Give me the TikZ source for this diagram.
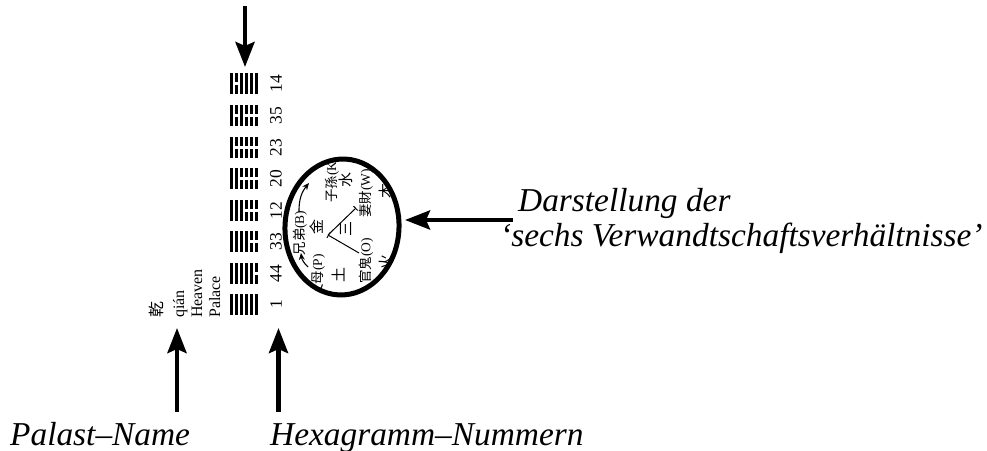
\documentclass[tikz,border=0pt]{standalone}
\usepackage{fontspec}
\setmainfont{Liberation Serif}
\newfontfamily\cjk{Noto Sans CJK TC}
\usetikzlibrary{arrows.meta,shapes.geometric}
\newcommand\hexagr[2]{%
  \foreach \b [count=\i from 0] in {#2}{%
    \pgfmathsetmacro\xa{230+\i*5}%
    \ifnum\b=1
      \fill (\xa,#1-10) rectangle (\xa+3,#1+11);
    \else
      \fill (\xa,#1-10) rectangle (\xa+3,#1-1);
      \fill (\xa,#1+2) rectangle (\xa+3,#1+11);
    \fi}}
\begin{document}
\begin{tikzpicture}[x=1bp,y=-1bp,
  big/.style={font=\fontsize{33.5}{36}\selectfont\itshape, inner sep=0pt},
  bigarrow/.style={line width=4.5bp, -{Stealth[length=25bp,width=19bp,inset=4bp]}},
  num/.style={rotate=90, font=\fontsize{17.5}{18}\selectfont, inner sep=0pt},
  pal/.style={rotate=90, font=\fontsize{16}{18}\selectfont, inner sep=0pt, anchor=base west},
  rel/.style={rotate=90, font=\fontsize{13.5}{14}\selectfont, inner sep=0pt},
  elem/.style={rotate=90, font=\fontsize{15}{16}\selectfont\cjk, inner sep=0pt},
  relline/.style={line width=1bp, -{Bar[width=6bp,line width=1bp]}},
  smallarrow/.style={line width=1.1bp, -{Stealth[length=7bp,width=6bp]}}]
\useasboundingbox (0,0) rectangle (987,451);

% hexagrams (leftmost bar = top line)
\hexagr{83}{1,0,1,1,1,1}
\hexagr{115}{1,0,1,0,0,0}
\hexagr{147}{1,0,0,0,0,0}
\hexagr{178}{1,1,0,0,0,0}
\hexagr{210}{1,1,1,0,0,0}
\hexagr{241}{1,1,1,1,0,0}
\hexagr{273}{1,1,1,1,1,0}
\hexagr{304}{1,1,1,1,1,1}

% hexagram numbers
\node[num] (n14) at (276,83.5) {14};
\node[num] (n35) at (276,115.5) {35};
\node[num] (n23) at (276,147.5) {23};
\node[num] (n20) at (276,178.5) {20};
\node[num] (n12) at (276,210.5) {12};
\node[num] (n33) at (276,241.5) {33};
\node[num] (n44) at (276,273.5) {44};
\node[num] (n1)  at (276,304.5) {1};

% palace name
\node[pal, font=\fontsize{16}{17}\selectfont\cjk] (q1) at (162,318) {乾};
\node[pal] (q2) at (184,318) {qián};
\node[pal] (q3) at (202,318) {Heaven};
\node[pal] (q4) at (220,318) {Palace};

% six relations diagram
\begin{scope}
  \clip[rotate around={-3:(342,227)}] (342,227) ellipse [x radius=56, y radius=67];
  \node[rel] (xd) at (300,233) {{\cjk 兄弟}(B)};
  \node[elem] (jin) at (317,227) {金};
  \node[elem] (tri) at (346,229) {三};
  \node[rel, anchor=west] (zs) at (332,203) {{\cjk 子孫}(K)};
  \node[elem] (shui) at (346,180) {水};
  \node[rel, anchor=west] (qc) at (366,218) {{\cjk 妻財}(W)};
  \node[elem] (mu) at (386,191) {木};
  \node[rel, anchor=east] (gg) at (366,238) {{\cjk 官鬼}(O)};
  \node[elem] (huo) at (386,262) {火};
  \node[rel, anchor=east] (fm) at (318,254) {{\cjk 父母}(P)};
  \node[elem] (tu) at (339,275) {土};
  \coordinate (v) at (328,235);
  \coordinate (l1) at (356,208);
  \coordinate (l2) at (359,253);
  \draw[relline] (v) -- (l1);
  \draw[relline] (l2) -- (v);
  \coordinate (c1) at (308,267);
  \coordinate (c2) at (301,253);
  \coordinate (c3) at (299,212);
  \coordinate (c4) at (309,183);
  \draw[smallarrow] (c1) to[bend left=20] (c2);
  \draw[smallarrow] (c3) to[bend left=20] (c4);
\end{scope}
\node[draw, ellipse, line width=5bp, minimum width=114bp, minimum height=136bp,
      inner sep=0pt, rotate=-3] (ell) at (342,227) {};

% labels
\node[big, anchor=base west] (pn) at (10,445) {Palast–Name};
\node[big, anchor=base west] (hn) at (270,445) {Hexagramm–Nummern};
\node[big, anchor=base west] (d1) at (518,212) {Darstellung der};
\node[big, anchor=base west] (d2) at (500,247) {‘sechs Verwandtschaftsverhältnisse’};

% arrows
\coordinate (ta) at (245,6);     \coordinate (tb) at (245,67);
\coordinate (pa) at (177,412);   \coordinate (pb) at (177,328);
\coordinate (ha) at (278.5,412); \coordinate (hb) at (278.5,328);
\coordinate (ra) at (513,220);   \coordinate (rb) at (405,220);
\draw[bigarrow] (ta) -- (tb);
\draw[bigarrow] (pa) -- (pb);
\draw[bigarrow] (ha) -- (hb);
\draw[bigarrow] (ra) -- (rb);
\end{tikzpicture}
\end{document}
